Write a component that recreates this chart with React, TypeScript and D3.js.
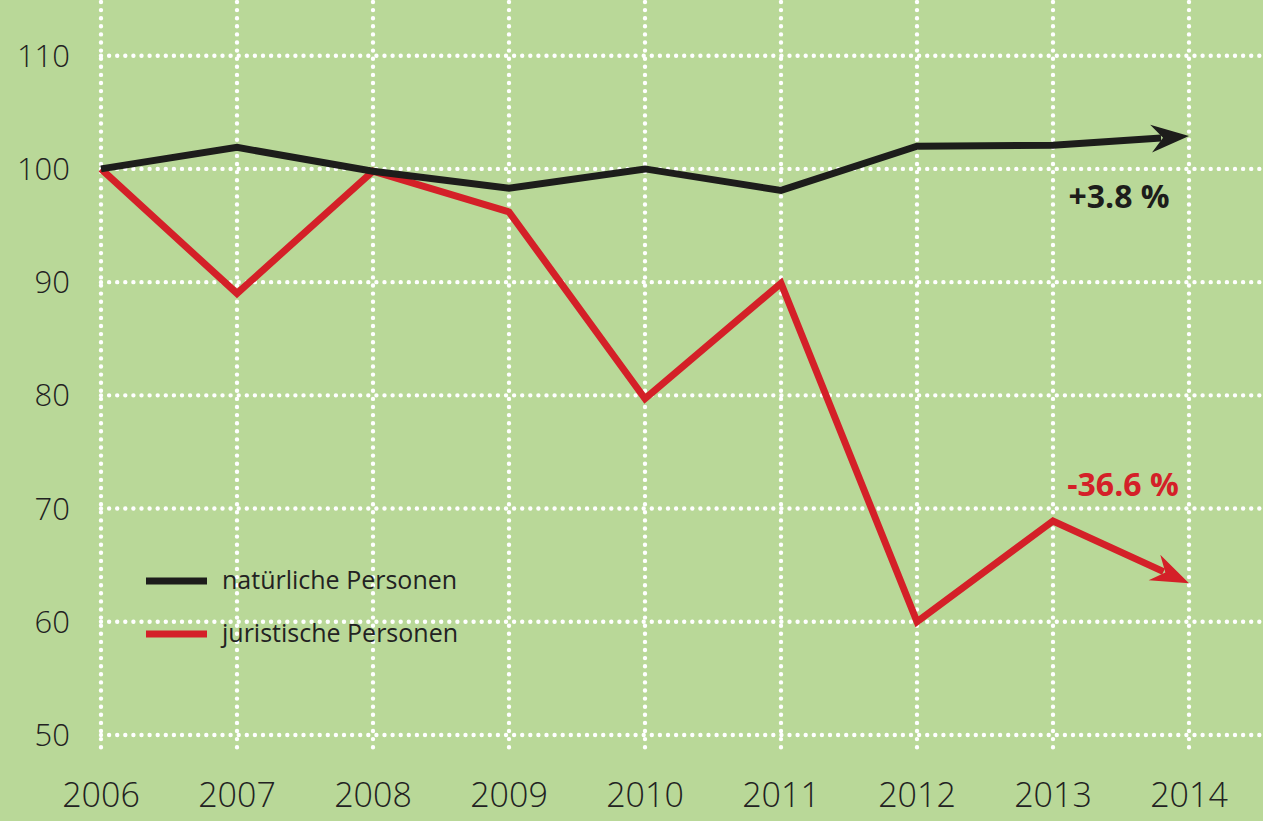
import React from 'react';
import * as d3 from 'd3';

const years = [2006, 2007, 2008, 2009, 2010, 2011, 2012, 2013, 2014];
const natuerliche = [100, 101.9, 99.8, 98.3, 100, 98.1, 102, 102.1, 102.9];
const juristische = [100, 89.0, 99.8, 96.2, 79.7, 89.9, 60, 68.9, 63.4];
const yTicks = [50, 60, 70, 80, 90, 100, 110];

const W = 1263, H = 821;
const BG = '#b9d898';
const BLACK = '#1d1d1b';
const RED = '#d42028';
const FONT = '"Open Sans", "DejaVu Sans", sans-serif';

const x = d3.scaleLinear().domain([2006, 2014]).range([101, 1189]);
const y = d3.scaleLinear().domain([50, 110]).range([735, 55.7]);

// barbed arrow at the end of a series
function arrowHead(data: number[]) {
  const n = data.length;
  const x0 = x(years[n - 2]), y0 = y(data[n - 2]);
  const x1 = x(years[n - 1]), y1 = y(data[n - 1]);
  const len = Math.hypot(x1 - x0, y1 - y0);
  const ux = (x1 - x0) / len, uy = (y1 - y0) / len;
  const nx = -uy, ny = ux;
  const L = 38, Wd = 14, notch = 26;
  const pts = [
    [x1, y1],
    [x1 - ux * L + nx * Wd, y1 - uy * L + ny * Wd],
    [x1 - ux * notch, y1 - uy * notch],
    [x1 - ux * L - nx * Wd, y1 - uy * L - ny * Wd],
  ];
  return {
    d: 'M' + pts.map(p => p.join(',')).join('L') + 'Z',
    end: [x1 - ux * (notch + 2), y1 - uy * (notch + 2)],
  };
}

function Series({ data, color }: { data: number[]; color: string }) {
  const head = arrowHead(data);
  const pts: [number, number][] = data.map((v, i) => [x(years[i]), y(v)]);
  pts[pts.length - 1] = head.end as [number, number];
  const line = d3.line();
  return (
    <g>
      <path d={line(pts) || ''} fill="none" stroke={color} strokeWidth={7} strokeLinejoin="miter" />
      <path d={head.d} fill={color} />
    </g>
  );
}

export default function App() {
  return (
    <svg width={W} height={H} style={{ position: 'fixed', left: 0, top: 0, display: 'block' }}>
      <rect width={W} height={H} fill={BG} />
      <g stroke="#fff" strokeWidth={4.4} strokeLinecap="round" strokeDasharray="0 8.1">
        {years.map(yr => (
          <line key={yr} x1={x(yr)} x2={x(yr)} y1={2} y2={751} />
        ))}
        {yTicks.map(t => (
          <line key={t} x1={x(2006)} x2={W} y1={y(t)} y2={y(t)} />
        ))}
      </g>
      <g fontFamily={FONT} fontWeight={300} fontSize={31} fill="#222">
        {yTicks.map(t => (
          <text key={t} x={70} y={y(t) + 11} textAnchor="end">{t}</text>
        ))}
        {years.map(yr => (
          <text key={yr} x={x(yr)} y={807} textAnchor="middle" fontSize={34}>{yr}</text>
        ))}
      </g>
      <Series data={juristische} color={RED} />
      <Series data={natuerliche} color={BLACK} />
      <g fontFamily={FONT} fontWeight={700} fontSize={32}>
        <text x={1119} y={208} textAnchor="middle" fill={BLACK}>+3.8 %</text>
        <text x={1123} y={496} textAnchor="middle" fill={RED}>-36.6 %</text>
      </g>
      <g fontFamily={FONT} fontSize={25} fill="#222">
        <line x1={146} x2={207} y1={581} y2={581} stroke={BLACK} strokeWidth={7} />
        <text x={222} y={589}>natürliche Personen</text>
        <line x1={146} x2={207} y1={634} y2={634} stroke={RED} strokeWidth={7} />
        <text x={222} y={642}>juristische Personen</text>
      </g>
    </svg>
  );
}
